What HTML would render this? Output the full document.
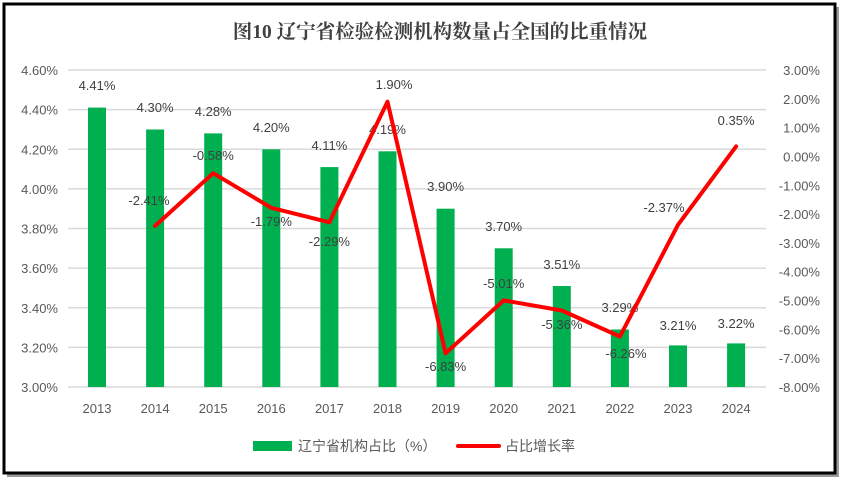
<!DOCTYPE html>
<html><head><meta charset="utf-8"><style>
html,body{margin:0;padding:0;background:#fff;}
svg{display:block;font-family:"Liberation Sans","Noto Sans CJK SC",sans-serif;}
</style></head><body>
<svg width="846" height="485" viewBox="0 0 846 485">
<rect x="7" y="7" width="832" height="470" fill="#9a9a9a"/>
<rect x="4" y="4" width="831" height="469" fill="#fff" stroke="#000" stroke-width="3"/>
<text x="440" y="38" text-anchor="middle" font-size="19.5" font-weight="bold" fill="#404040" font-family="'Liberation Serif','Noto Serif CJK SC',serif">图10 辽宁省检验检测机构数量占全国的比重情况</text>
<g stroke="#d9d9d9" stroke-width="1.5">
<line x1="68" x2="766" y1="70" y2="70"/><line x1="68" x2="766" y1="109.6" y2="109.6"/>
<line x1="68" x2="766" y1="149.3" y2="149.3"/><line x1="68" x2="766" y1="188.9" y2="188.9"/>
<line x1="68" x2="766" y1="228.5" y2="228.5"/><line x1="68" x2="766" y1="268.1" y2="268.1"/>
<line x1="68" x2="766" y1="307.8" y2="307.8"/><line x1="68" x2="766" y1="347.4" y2="347.4"/>
<line x1="68" x2="766" y1="387" y2="387"/>
</g>
<g font-size="13" fill="#595959" text-anchor="end">
<text x="58" y="75">4.60%</text><text x="58" y="114.6">4.40%</text><text x="58" y="154.3">4.20%</text>
<text x="58" y="193.9">4.00%</text><text x="58" y="233.5">3.80%</text><text x="58" y="273.1">3.60%</text>
<text x="58" y="312.8">3.40%</text><text x="58" y="352.4">3.20%</text><text x="58" y="392">3.00%</text>
</g>
<g font-size="13" fill="#595959" text-anchor="end">
<text x="820" y="75">3.00%</text><text x="820" y="103.8">2.00%</text><text x="820" y="132.6">1.00%</text>
<text x="820" y="161.5">0.00%</text><text x="820" y="190.3">-1.00%</text><text x="820" y="219.1">-2.00%</text>
<text x="820" y="247.9">-3.00%</text><text x="820" y="276.7">-4.00%</text><text x="820" y="305.6">-5.00%</text>
<text x="820" y="334.4">-6.00%</text><text x="820" y="363.2">-7.00%</text><text x="820" y="392">-8.00%</text>
</g>
<g fill="#00b050">
<rect x="88" y="107.6" width="18" height="279.4"/>
<rect x="146.1" y="129.5" width="18" height="257.5"/>
<rect x="204.2" y="133.4" width="18" height="253.6"/>
<rect x="262.3" y="149.3" width="18" height="237.7"/>
<rect x="320.4" y="167.1" width="18" height="219.9"/>
<rect x="378.5" y="151.3" width="18" height="235.7"/>
<rect x="436.6" y="208.7" width="18" height="178.3"/>
<rect x="494.7" y="248.3" width="18" height="138.7"/>
<rect x="552.8" y="286" width="18" height="101"/>
<rect x="610.9" y="329.5" width="18" height="57.5"/>
<rect x="669" y="345.4" width="18" height="41.6"/>
<rect x="727.1" y="343.4" width="18" height="43.6"/>
</g>
<g font-size="13" fill="#404040" text-anchor="middle">
<text x="97" y="90">4.41%</text><text x="155.1" y="112">4.30%</text><text x="213.2" y="116">4.28%</text>
<text x="271.3" y="132">4.20%</text><text x="329.4" y="150">4.11%</text><text x="387.5" y="134">4.19%</text>
<text x="445.6" y="191">3.90%</text><text x="503.7" y="231">3.70%</text><text x="561.8" y="269">3.51%</text>
<text x="619.9" y="312">3.29%</text><text x="678" y="330">3.21%</text><text x="736.1" y="328">3.22%</text>
</g>
<polyline fill="none" stroke="#ff0000" stroke-width="4" stroke-linejoin="round" stroke-linecap="round"
points="155.1,225.9 213.2,173.2 271.3,207.8 329.4,222.3 387.5,101.7 445.6,353.3 503.7,300.4 561.8,310.5 619.9,336.5 678,224.8 736.1,146.4"/>
<g font-size="13" fill="#404040" text-anchor="middle">
<text x="149" y="205">-2.41%</text><text x="213.2" y="160">-0.58%</text><text x="271.3" y="226">-1.79%</text>
<text x="329.4" y="246">-2.29%</text><text x="394" y="89">1.90%</text><text x="445.6" y="371">-6.83%</text>
<text x="503.7" y="288">-5.01%</text><text x="561.8" y="329">-5.36%</text><text x="626" y="358">-6.26%</text>
<text x="664" y="212">-2.37%</text><text x="736.1" y="125">0.35%</text>
</g>
<g font-size="13" fill="#595959" text-anchor="middle">
<text x="97" y="413">2013</text><text x="155.1" y="413">2014</text><text x="213.2" y="413">2015</text>
<text x="271.3" y="413">2016</text><text x="329.4" y="413">2017</text><text x="387.5" y="413">2018</text>
<text x="445.6" y="413">2019</text><text x="503.7" y="413">2020</text><text x="561.8" y="413">2021</text>
<text x="619.9" y="413">2022</text><text x="678" y="413">2023</text><text x="736.1" y="413">2024</text>
</g>
<rect x="253" y="441" width="39" height="10" fill="#00b050"/>
<text x="298" y="451" font-size="14" fill="#595959">辽宁省机构占比（%）</text>
<line x1="458" x2="499" y1="446" y2="446" stroke="#ff0000" stroke-width="4" stroke-linecap="round"/>
<text x="505" y="451" font-size="14" fill="#595959">占比增长率</text>
</svg>
</body></html>
